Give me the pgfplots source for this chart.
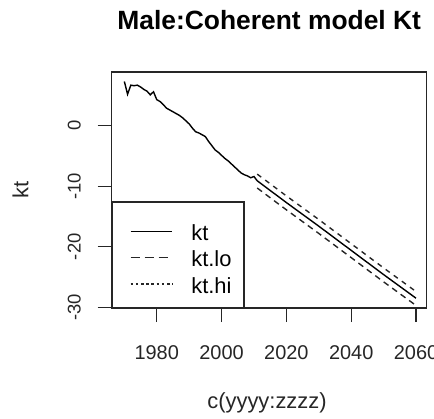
\documentclass[border=0pt]{standalone}
\usepackage{fontspec}
\setmainfont{Liberation Sans}
\usepackage{pgfplots}
\pgfplotsset{compat=1.18}

\begin{document}
\begin{tikzpicture}
% page = 434 x 419 bp, axis box at (111.7,72)-(426.7,308) in image pixels
\useasboundingbox (-111.7bp,-111bp) rectangle (322.3bp,308bp);
\begin{axis}[
    at={(0,0)}, anchor=south west,
    scale only axis, width=315bp, height=236bp,
    xmin=1966.1, xmax=2063.3,
    ymin=-30.12, ymax=8.87,
    axis line style={line width=1.3bp, draw=black!85},
    tick align=outside, major tick length=14bp,
    tick style={line width=1.3bp, draw=black!85},
    xtick pos=bottom, ytick pos=left,
    xtick={1980,2000,2020,2040,2060},
    xticklabels={1980,2000,2020,2040,2060},
    ytick={-30,-20,-10,0},
    yticklabels={-30,-20,-10,0},
    xticklabel style={font=\fontsize{20}{20}\selectfont, anchor=base, text=black!85},
    yticklabel style={font=\fontsize{18.5}{18.5}\selectfont, rotate=90, anchor=base, text=black!85},
    xticklabel shift=37bp,
    yticklabel shift=17bp,
    title={Male:Coherent model Kt},
    title style={at={(0.5,1.155)}, anchor=base, font=\bfseries\fontsize{26.5}{26.5}\selectfont},
    xlabel={c(yyyy:zzzz)},
    xlabel style={at={(0.493,-0.4258)}, anchor=base, font=\fontsize{22}{22}\selectfont, text=black!85},
    ylabel={kt},
    ylabel style={at={(-0.2648,0.5)}, anchor=base, font=\fontsize{22}{22}\selectfont, text=black!85},
    legend style={
      at={(0,0)}, anchor=south west,
      draw=black!85, line width=1.3bp, fill=white,
      inner xsep=0bp, inner ysep=13.1bp,
      font=\fontsize{22}{22}\selectfont,
      row sep=0bp,
      nodes={inner sep=0bp, text height=25.4bp, text depth=1bp},
      /tikz/every odd column/.append style={column sep=18.3bp},
    },
    legend cell align=left,
    legend image code/.code={
      \path[draw=none] (0bp,0bp) -- (60bp,0bp);
      \draw[#1, line width=1.4bp] (18.3bp,-3bp) -- (60bp,-3bp);
    },
]

\addlegendimage{black}
\addlegendentry{\makebox[52.7bp][l]{kt}}
\addlegendimage{black!85, dash pattern=on 9bp off 5bp}
\addlegendentry{\makebox[52.7bp][l]{kt.lo}}
\addlegendimage{black!85, dash pattern=on 2.6bp off 2.6bp}
\addlegendentry{\makebox[52.7bp][l]{kt.hi}}

% kt: fitted index 1970-2010 and central forecast to 2060
\addplot[black, line width=1.4bp, forget plot] coordinates {
    (1970, 7.3) (1971, 5.2) (1972, 6.7) (1973, 6.6) (1974, 6.7)
    (1975, 6.4) (1976, 6.0) (1977, 5.7) (1978, 5.1) (1979, 5.6)
    (1980, 4.3) (1981, 4.0) (1982, 3.5) (1983, 2.9) (1984, 2.6)
    (1985, 2.3) (1986, 2.0) (1987, 1.7) (1988, 1.3) (1989, 0.8)
    (1990, 0.3) (1991, -0.4) (1992, -1.0) (1993, -1.2) (1994, -1.5)
    (1995, -1.8) (1996, -2.6) (1997, -3.3) (1998, -4.0) (1999, -4.4)
    (2000, -4.9) (2001, -5.4) (2002, -5.8) (2003, -6.3) (2004, -6.8)
    (2005, -7.3) (2006, -7.8) (2007, -8.1) (2008, -8.3) (2009, -8.6)
    (2010, -8.4)
    (2011, -9.1) (2020, -12.7) (2030, -16.6) (2040, -20.6)
    (2050, -24.6) (2060, -28.5)
};

% kt.lo
\addplot[black!85, line width=1.4bp, dash pattern=on 6bp off 4.5bp, forget plot] coordinates {
    (2011, -10.3) (2020, -13.9) (2030, -17.8) (2040, -21.8)
    (2050, -25.8) (2060, -29.7)
};

% kt.hi
\addplot[black!85, line width=1.4bp, dash pattern=on 5bp off 5bp, forget plot] coordinates {
    (2011, -8.0) (2020, -11.6) (2030, -15.5) (2040, -19.5)
    (2050, -23.5) (2060, -27.4)
};

\end{axis}
\end{tikzpicture}
\end{document}
